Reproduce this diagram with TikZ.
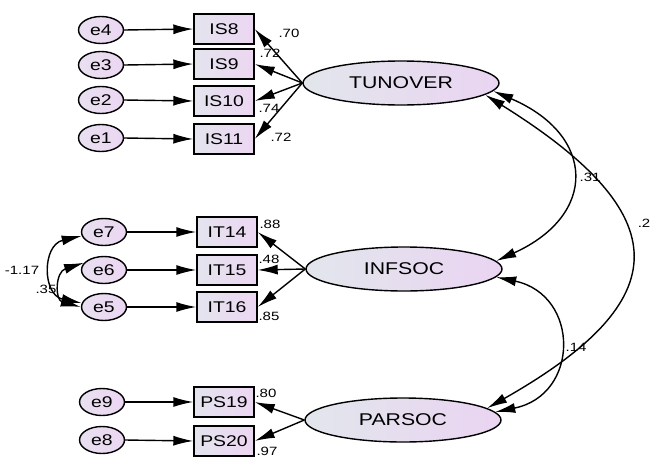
\documentclass[tikz,border=0pt]{standalone}
\usepackage{fontspec}
\newfontfamily\diag[FakeStretch=1.25]{Liberation Sans}
\usetikzlibrary{arrows.meta,shapes.geometric}
\definecolor{lgL}{RGB}{226,230,236}
\definecolor{lgR}{RGB}{234,212,242}
\definecolor{bxL}{RGB}{228,228,238}
\definecolor{bxR}{RGB}{236,214,242}
\definecolor{erL}{RGB}{232,224,240}
\definecolor{erR}{RGB}{236,214,242}
\tikzset{
  latent/.style={ellipse, draw=black, line width=1.4pt, left color=lgL, right color=lgR,
    minimum width=196pt, minimum height=44pt, inner sep=0pt, font=\diag\fontsize{17}{17}\selectfont},
  obsbox/.style={rectangle, draw=black, line width=1.4pt, left color=bxL, right color=bxR,
    minimum width=60pt, minimum height=30pt, inner sep=0pt, font=\diag\fontsize{15.5}{16}\selectfont},
  errnode/.style={ellipse, draw=black, line width=1.4pt, left color=erL, right color=erR,
    minimum width=45pt, minimum height=27pt, inner sep=0pt, font=\diag\fontsize{15.5}{16}\selectfont},
  tip/.tip={Latex[length=20pt,width=10pt]},
  path1/.style={line width=1.4pt, -tip},
  cov/.style={line width=1.4pt, tip-tip},
  est/.style={inner sep=0pt, font=\diag\fontsize{12}{12}\selectfont}
}
\begin{document}
\begin{tikzpicture}[x=1pt,y=-1pt]
\useasboundingbox (0,0) rectangle (650,458);
% latent variables
\node[latent] (TUN) at (401,83) {TUNOVER};
\node[latent] (INF) at (404,269) {INFSOC};
\node[latent] (PAR) at (403,420) {PARSOC};
% observed
\node[obsbox] (IS8) at (224,29) {IS8};
\node[obsbox] (IS9) at (224,64) {IS9};
\node[obsbox] (IS10) at (224,101) {IS10};
\node[obsbox] (IS11) at (224,139) {IS11};
\node[obsbox] (IT14) at (227,232) {IT14};
\node[obsbox] (IT15) at (227,270) {IT15};
\node[obsbox] (IT16) at (227,307) {IT16};
\node[obsbox] (PS19) at (224,402) {PS19};
\node[obsbox] (PS20) at (224,441) {PS20};
% errors
\node[errnode] (e4) at (101,30) {e4};
\node[errnode] (e3) at (101,65) {e3};
\node[errnode] (e2) at (101,100) {e2};
\node[errnode] (e1) at (101,138) {e1};
\node[errnode] (e7) at (104,232) {e7};
\node[errnode] (e6) at (104,270) {e6};
\node[errnode] (e5) at (104,307) {e5};
\node[errnode] (e9) at (102,402) {e9};
\node[errnode] (e8) at (102,440) {e8};
% error paths
\foreach \e/\b in {e4/IS8,e3/IS9,e2/IS10,e1/IS11,e7/IT14,e6/IT15,e5/IT16,e9/PS19,e8/PS20}
  \draw[path1] (\e.east) -- (\b.west);
% loadings
\foreach \b in {IS8,IS9,IS10,IS11} \draw[path1] (TUN.west) -- (\b.east);
\foreach \b in {IT14,IT15,IT16} \draw[path1] (INF.west) -- (\b.east);
\foreach \b in {PS19,PS20} \draw[path1] (PAR.west) -- (\b.east);
% covariances latent
\draw[cov] (TUN.-5) .. controls (596,135) and (598,215) .. (INF.5);
\draw[cov] (TUN.-8) .. controls (678,215) and (678,300) .. (PAR.8);
\draw[cov] (INF.-5) .. controls (580,295) and (580,395) .. (PAR.5);
% covariances errors
\draw[cov] (e7.190) .. controls (42,245) and (42,295) .. (e5.170);
\draw[cov] (e6.160) .. controls (55,272) and (55,300) .. (e5.180);
% estimates
\node[est] (l70) at (289,33) {.70};
\node[est] (l72a) at (270,53) {.72};
\node[est] (l74) at (269,108) {.74};
\node[est] (l72b) at (281,137) {.72};
\node[est] (l88) at (270,224) {.88};
\node[est] (l48) at (269,259) {.48};
\node[est] (l85) at (269,316) {.85};
\node[est] (l80) at (266,393) {.80};
\node[est] (l97) at (267,451) {.97};
\node[est] (l117) at (22,270) {-1.17};
\node[est] (l35) at (46,289) {.35};
\node[est] (l31) at (590,177) {.31};
\node[est] (l2) at (644,223) {.2};
\node[est] (l14) at (576,347) {.14};
\end{tikzpicture}
\end{document}
